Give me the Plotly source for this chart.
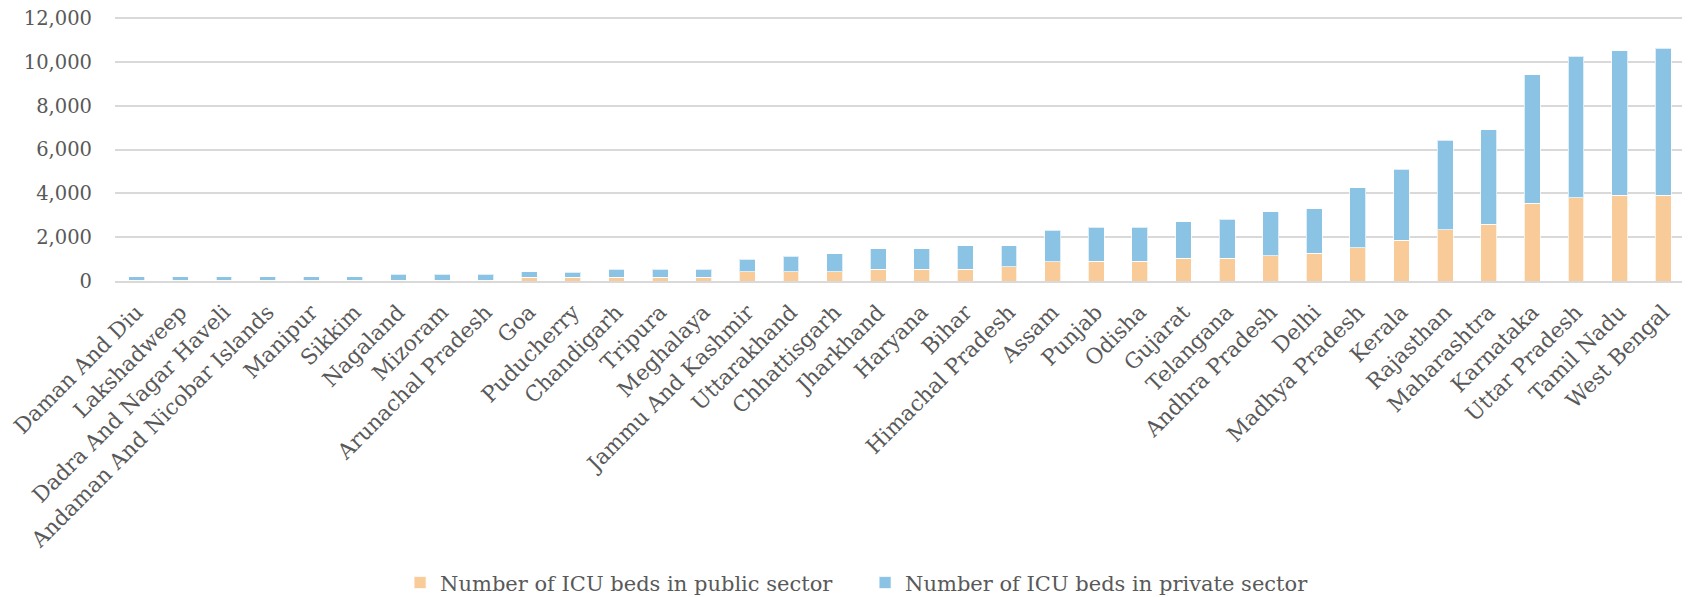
import plotly.graph_objects as go

states = ["Daman And Diu", "Lakshadweep", "Dadra And Nagar Haveli", "Andaman And Nicobar Islands",
          "Manipur", "Sikkim", "Nagaland", "Mizoram", "Arunachal Pradesh", "Goa", "Puducherry",
          "Chandigarh", "Tripura", "Meghalaya", "Jammu And Kashmir", "Uttarakhand", "Chhattisgarh",
          "Jharkhand", "Haryana", "Bihar", "Himachal Pradesh", "Assam", "Punjab", "Odisha",
          "Gujarat", "Telangana", "Andhra Pradesh", "Delhi", "Madhya Pradesh", "Kerala",
          "Rajasthan", "Maharashtra", "Karnataka", "Uttar Pradesh", "Tamil Nadu", "West Bengal"]

public_beds = [30, 30, 30, 30, 30, 30, 40, 40, 40, 180, 170, 180, 180, 180, 420, 420, 420,
               540, 540, 540, 640, 890, 900, 910, 1030, 1030, 1150, 1270, 1510, 1870,
               2350, 2590, 3550, 3790, 3910, 3910]
private_beds = [160, 160, 160, 160, 160, 160, 260, 260, 260, 240, 240, 360, 360, 360, 580, 720, 830,
                940, 940, 1060, 960, 1430, 1550, 1540, 1670, 1780, 2020, 2030, 2740, 3230,
                4070, 4310, 5870, 6470, 6590, 6710]

y_ticks = [0, 2000, 4000, 6000, 8000, 10000, 12000]

FONT = "DejaVu Serif"
GREY = "#595959"

fig = go.Figure()
fig.add_trace(go.Bar(x=states, y=public_beds, name="Number of ICU beds in public sector",
                     marker=dict(color="#F9CB98", line=dict(color="rgba(255,255,255,0.7)", width=1))))
fig.add_trace(go.Bar(x=states, y=private_beds, name="Number of ICU beds in private sector",
                     marker=dict(color="#8BC3E5", line=dict(color="rgba(255,255,255,0.7)", width=1))))

fig.update_layout(
    width=1690, height=597,
    barmode="stack", bargap=0.635,
    plot_bgcolor="white", paper_bgcolor="white",
    margin=dict(l=107, r=13, t=8.9, b=324.3),
    font=dict(family=FONT, size=20, color=GREY),
    showlegend=True,
    legend=dict(orientation="h", xref="container", yref="container",
                x=0.232, xanchor="left", y=0.037, yanchor="middle",
                font=dict(family=FONT, size=21, color=GREY), traceorder="normal",
                itemwidth=30, entrywidth=420, entrywidthmode="pixels"),
)
fig.update_xaxes(tickangle=-45, showgrid=False, showline=True, linecolor="#D9D9D9", linewidth=2,
                 tickfont=dict(family=FONT, size=21.5, color=GREY), ticks="", automargin=False,
                 ticklabelstandoff=8)
fig.update_yaxes(range=[0, 12050], tickvals=y_ticks, tickformat=",", showgrid=True,
                 gridcolor="#D9D9D9", gridwidth=1.5, zeroline=False, showline=False,
                 tickfont=dict(family=FONT, size=19.5, color=GREY), ticklabelstandoff=22,
                 ticklabeloverflow="allow", automargin=False)

fig.write_html("out.html")
